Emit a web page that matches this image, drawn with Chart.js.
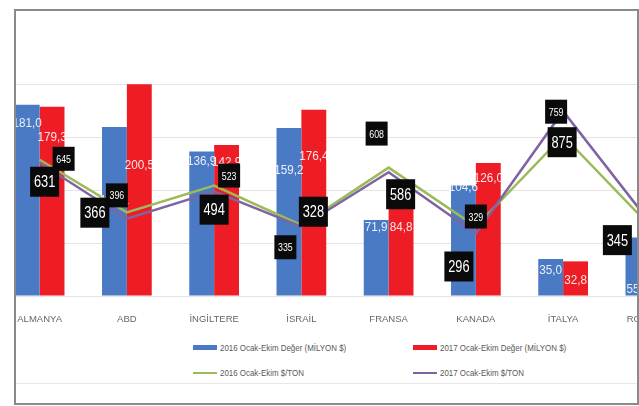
<!DOCTYPE html>
<html>
<head>
<meta charset="utf-8">
<script src="https://cdn.jsdelivr.net/npm/chart.js@4.4.1/dist/chart.umd.min.js"></script>
<style>
  html, body { margin: 0; padding: 0; background: #fff; }
  body { width: 639px; height: 406px; position: relative; overflow: hidden; }
  #frame {
    position: absolute; left: 14px; top: 9px;
    width: 621px; height: 392px;
    border: 2px solid #8a8a8a;
    overflow: hidden;
  }
  #wrap { position: absolute; left: -20px; top: 0; width: 698px; height: 330px; }
  #sep { position: absolute; left: 0; right: 0; top: 372px; border-top: 1px solid #e8e8e8; }
  #legend { position: absolute; left: 0; top: 0; }
  .item {
    position: absolute; height: 14px; line-height: 14px;
    font: 9px "Liberation Sans", sans-serif;
    color: #595959; white-space: nowrap;
  }
  .sw { display: inline-block; width: 24px; vertical-align: middle; margin-right: 3px; }
  .txt { display: inline-block; vertical-align: middle; transform: scaleX(0.88); transform-origin: left center; }
</style>
</head>
<body>
<div id="frame">
  <div id="wrap"><canvas id="chart"></canvas></div>
  <div id="sep"></div>
  <div id="legend"></div>
</div>
<script>
document.addEventListener('DOMContentLoaded', () => {
    // Data
    const countries = ['ALMANYA', 'ABD', 'İNGİLTERE', 'İSRAİL', 'FRANSA', 'KANADA', 'İTALYA', 'ROMANYA'];
    const value2016 = [181.0, 160.1, 136.9, 159.2, 71.9, 104.6, 35.0, 55.4];
    const value2017 = [179.3, 200.5, 142.9, 176.4, 84.8, 126.0, 32.8, 60.2];
    const perTon2016 = [645, 396, 523, 335, 608, 329, 759, 330];
    const perTon2017 = [631, 366, 494, 328, 586, 296, 875, 345];

    // Label placement (pixels, relative to bar top / line point)
    const barLabelDy2016 = [19, 73, 10, 43, 7, 2, 11, 52];
    const barLabelDy2017 = [31, 81, 17, 47, 21, 15, 19, 30];
    const lineLabelOff2016 = [[24, -1], [-10, -17], [15, -10], [-16, 22], [-12, -34], [0, -10], [-7, -24], [0, 0]];
    const lineLabelOff2017 = [[5, 19], [-32, -6], [0, 18], [12, -15], [12, 22], [-17, 33], [-1, 31], [-33, 17]];

    const fontFamily = '"Liberation Sans", sans-serif';
    const fmt = v => v.toFixed(1).replace('.', ',');

    // condensed text, like the narrow Office font of the original
    function narrowText(ctx, text, x, y, squeeze) {
        ctx.save();
        ctx.translate(x, y);
        ctx.scale(squeeze, 1);
        ctx.fillText(text, 0, 0);
        ctx.restore();
    }

    const labelPlugin = {
        id: 'labels',
        afterDatasetsDraw(chart) {
            const ctx = chart.ctx;
            ctx.save();
            ctx.textAlign = 'center';
            ctx.textBaseline = 'middle';
            // bar values
            ctx.font = '13px ' + fontFamily;
            ctx.fillStyle = 'rgba(255,255,255,0.88)';
            [[0, barLabelDy2016], [1, barLabelDy2017]].forEach(([di, dys]) => {
                const meta = chart.getDatasetMeta(di);
                meta.data.forEach((bar, i) => {
                    narrowText(ctx, fmt(chart.data.datasets[di].data[i]), bar.x, bar.y + dys[i], 0.9);
                });
            });
            // $/TON boxes
            [[2, lineLabelOff2016, 22, 24, 11], [3, lineLabelOff2017, 29, 30, 16]].forEach(([di, offs, w, h, fs]) => {
                const meta = chart.getDatasetMeta(di);
                ctx.font = fs + 'px ' + fontFamily;
                meta.data.forEach((pt, i) => {
                    const cx = pt.x + offs[i][0];
                    const cy = pt.y + offs[i][1];
                    ctx.fillStyle = '#0a0a0a';
                    ctx.fillRect(cx - w / 2, cy - h / 2, w, h);
                    ctx.fillStyle = '#ffffff';
                    narrowText(ctx, String(chart.data.datasets[di].data[i]), cx, cy + 1, 0.8);
                });
            });
            ctx.restore();
        }
    };

    const ctx = document.getElementById('chart').getContext('2d');
    const chart = new Chart(ctx, {
        data: {
            labels: countries,
            datasets: [
                { type: 'bar', label: '2016 Ocak-Ekim Değer (MİLYON $)', data: value2016,
                  backgroundColor: '#4a7ac4', yAxisID: 'y', order: 2 },
                { type: 'bar', label: '2017 Ocak-Ekim Değer (MİLYON $)', data: value2017,
                  backgroundColor: '#ee1c25', yAxisID: 'y', order: 2 },
                { type: 'line', label: '2016 Ocak-Ekim $/TON', data: perTon2016,
                  borderColor: '#9bbb59', borderWidth: 2.5, pointRadius: 0, yAxisID: 'y1', order: 1 },
                { type: 'line', label: '2017 Ocak-Ekim $/TON', data: perTon2017,
                  borderColor: '#8064a2', borderWidth: 2.5, pointRadius: 0, yAxisID: 'y1', order: 0 }
            ]
        },
        options: {
            responsive: true,
            maintainAspectRatio: false,
            animation: false,
            layout: { padding: { top: 21, bottom: 10, left: 0, right: 0 } },
            datasets: { bar: { barPercentage: 1, categoryPercentage: 0.57 } },
            plugins: { legend: { display: false }, tooltip: { enabled: false } },
            scales: {
                x: {
                    grid: { display: false, drawTicks: false },
                    border: { display: false },
                    ticks: { color: '#666666', padding: 18, font: { family: fontFamily, size: 9.5 } },
                    afterFit: s => { s.height = 35; }
                },
                y: {
                    position: 'left', min: 0, max: 250,
                    ticks: { display: false, stepSize: 50 },
                    grid: { drawTicks: false, color: c => c.tick.value === 250 ? 'rgba(0,0,0,0)' : '#e4e4e4' },
                    border: { display: false },
                    afterFit: s => { s.width = 0; }
                },
                y1: { display: false, min: 0, max: 1250 }
            }
        },
        plugins: [labelPlugin]
    });

    // Legend in two columns, built from the datasets
    const legend = document.getElementById('legend');
    const slots = [[177, 331], [397, 331], [177, 356], [397, 356]];
    chart.data.datasets.forEach((ds, i) => {
        const el = document.createElement('div');
        el.className = 'item';
        el.style.left = slots[i][0] + 'px';
        el.style.top = slots[i][1] + 'px';
        const sw = document.createElement('span');
        sw.className = 'sw';
        if (ds.type === 'bar') {
            sw.style.height = '5px';
            sw.style.background = ds.backgroundColor;
        } else {
            sw.style.height = '0';
            sw.style.borderTop = '2px solid ' + ds.borderColor;
        }
        const txt = document.createElement('span');
        txt.className = 'txt';
        txt.textContent = ds.label;
        el.appendChild(sw);
        el.appendChild(txt);
        legend.appendChild(el);
    });
});
</script>
</body>
</html>
